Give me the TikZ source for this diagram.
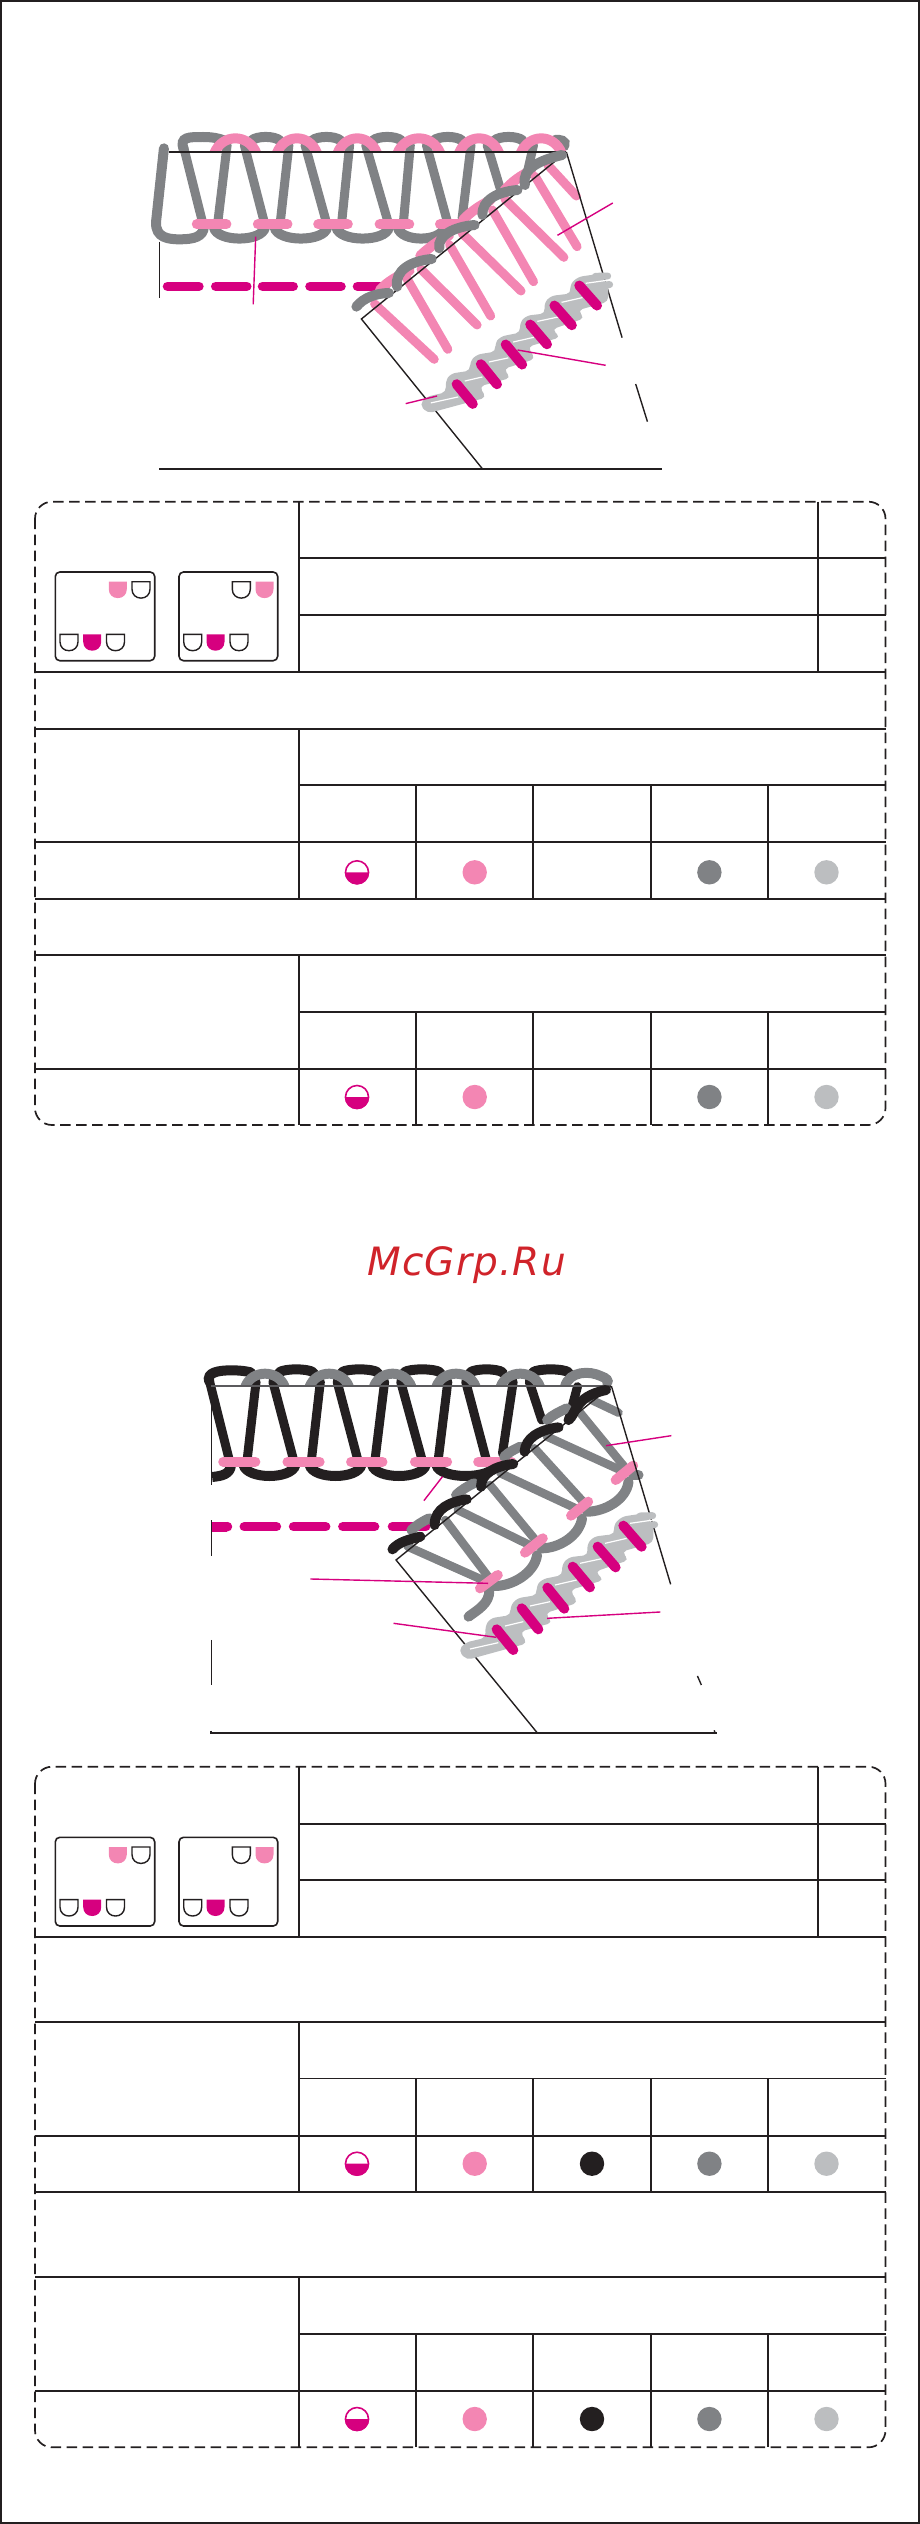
\documentclass[tikz,border=0pt]{standalone}
\usepackage{fontspec}
\newfontfamily\markfont[LetterSpace=3]{DejaVu Sans}
\definecolor{inkc}{HTML}{231F20}
\definecolor{pinkc}{HTML}{F386B3}
\definecolor{magc}{HTML}{D6007F}
\definecolor{grayc}{HTML}{808285}
\definecolor{lightc}{HTML}{BCBEC0}
\definecolor{markc}{HTML}{D0232A}
\tikzset{
  thinline/.style={draw=inkc,line width=1.4pt},
  gridline/.style={draw=inkc,line width=1.9pt},
  dashline/.style={draw=inkc,line width=1.7pt,dash pattern=on 10.5pt off 5.5pt,rounded corners=17pt},
  leader/.style={draw=magc,line width=1.4pt},
  strand/.style={line width=10pt,line cap=round},
  graystrand/.style={strand,draw=grayc},
  inkstrand/.style={strand,draw=inkc},
  pinkstrand/.style={strand,draw=pinkc},
  magstrand/.style={strand,draw=magc},
  cupline/.style={draw=inkc,line width=1.4pt,fill=white},
  boxline/.style={draw=inkc,line width=1.6pt,rounded corners=4.5pt},
}
\newcommand{\sewcup}[3]{\path[#3] (#1,#2) -- (#1+18,#2) -- (#1+18,#2+7.5) .. controls (#1+18,#2+13) and (#1+14,#2+16.4) .. (#1+9,#2+16.4) .. controls (#1+4,#2+16.4) and (#1,#2+13) .. (#1,#2+7.5) -- cycle;}
\newcommand{\sewboxes}{%
  \path[boxline] (55.3,572) rectangle (154.7,660.7);
  \path[boxline] (179,572) rectangle (277.7,660.7);
  \sewcup{108.8}{581.7}{fill=pinkc}
  \sewcup{132}{581.7}{cupline}
  \sewcup{60}{634.3}{cupline}
  \sewcup{83.2}{634.3}{fill=magc}
  \sewcup{106.5}{634.3}{cupline}
  \sewcup{232.3}{581.7}{cupline}
  \sewcup{255.5}{581.7}{fill=pinkc}
  \sewcup{183.7}{634.3}{cupline}
  \sewcup{206.5}{634.3}{fill=magc}
  \sewcup{230}{634.3}{cupline}
}
\newcommand{\halfdot}[1]{%
  \fill[magc] (357,#1) ++(-12.2,0) arc[start angle=180,end angle=0,radius=12.2] -- cycle;
  \draw[magc,line width=1.6pt] (357,#1) circle[radius=11.5];
}
\newcommand{\sixbars}{%
  \foreach \a/\b/\c/\d in {170/388/220/450,245/325/295/388,322/263/373/326,398/200/450/262,473/140/527/202,550/77/605/140}
    \draw[magstrand] (\a,\b) -- (\c,\d);
}
\newcommand{\chainband}{%
  \draw[lightc,line width=7pt,line cap=round] (600,48) -- (638,47);
  \draw[lightc,line width=7pt,line cap=round] (600,78) -- (644,74);
  \fill[lightc,rounded corners=5pt] (625,38) -- (545,50) -- (520,75) -- (525,102) -- (460,110) -- (440,135) -- (445,165) -- (385,172) -- (365,195) -- (368,225) -- (305,238) -- (288,260) -- (292,285) -- (230,295) -- (210,320) -- (213,345) -- (150,355) -- (135,380) -- (138,413) -- (75,428) -- (55,452) -- (80,480) -- (262,430) -- (240,395) -- (338,368) -- (315,340) -- (414,308) -- (390,270) -- (492,240) -- (465,215) -- (567,180) -- (545,155) -- (640,128) -- (640,75) -- (625,60) -- cycle;
  \foreach \a/\b/\c/\d in {90/447/175/428,195/378/250/365,270/318/330/305,345/255/410/240,420/190/490/175,495/130/560/115,570/70/640/60}
    \draw[white,line width=1.2pt] (\a,\b) -- (\c,\d);
  \sixbars
}
\begin{document}
\begin{tikzpicture}[x=1pt,y=-1pt]
\useasboundingbox (0,0) rectangle (920,2524);
\draw[draw=inkc,line width=2.4pt] (1.2,1.2) rectangle (918.8,2522.8);

% ===== first stitch drawing =====
\begin{scope}[shift={(130,110)},x=.3571pt,y=-.3333pt]
  % dashed seam
  \foreach \a/\b in {105/193,240/327,371/457,504/591,637/715}
    \draw[magstrand,line width=9.5pt] (\a,529) -- (\b,529);
  % looper arcs on top
  \draw[graystrand] (150,118) .. controls (138,80) and (165,81) .. (205,81) .. controls (230,81) and (250,85) .. (265,92);
  \foreach \a/\b in {340/420,510/590,680/760,850/930,1020/1100}
    \draw[graystrand] (\a,92) .. controls (\a+15,77) and (\b-15,77) .. (\b,92);
  \draw[graystrand] (1190,90) .. controls (1205,88) and (1222,92) .. (1216,108);
  % legs
  \foreach \a/\b/\c/\d in {150/110/205/345,272/105/245/345,320/105/378/345,445/105/420/345,490/105/552/345,615/105/592/345,660/105/725/345,785/105/765/345,830/105/890/340,955/105/930/325,1000/105/1038/240,1130/105/1110/200}
    \draw[graystrand,line width=9pt] (\a,\b) -- (\c,\d);
  % lower loops
  \draw[graystrand] (95,115) -- (73,335) .. controls (70,385) and (110,388) .. (140,388) .. controls (180,388) and (205,380) .. (207,350);
  \foreach \a/\b in {235/378,405/552,578/725,750/880}
    \draw[graystrand] (\a,352) .. controls (\a+8,397) and (\b-8,397) .. (\b,352);
  % needle bars
  \foreach \a/\b in {187/270,358/441,527/610,699/782,868/925}
    \draw[pinkstrand] (\a,343) -- (\b,343);
  % pink arches
  \begin{scope}
    \clip (0,0) rectangle (1300,126);
    \foreach \a/\b in {236/354,411/524,581/692,749/869,921/1034,1094/1209}
      \draw[pinkstrand,line cap=butt] (\a,130) .. controls (\a+22,70) and (\b-22,70) .. (\b,130);
  \end{scope}
  % folded part
  \foreach \a/\b/\c/\d in {685/582/852/748,775/505/890/718,815/478/972/645,895/405/1010/618,930/370/1095/543,1015/300/1130/515,1050/268/1215/442,1135/200/1252/410,1170/165/1250/258}
    \draw[pinkstrand,line width=9pt] (\a,\b) -- (\c,\d);
  \draw[pinkstrand] (700,540) .. controls (723,512) and (753,497) .. (783,482);
  \draw[pinkstrand] (813,437) .. controls (838,412) and (863,392) .. (893,377);
  \draw[pinkstrand] (933,329) .. controls (953,307) and (978,287) .. (1008,272);
  \draw[pinkstrand] (1048,242) .. controls (1068,217) and (1093,197) .. (1123,182);
  % thin outline
  \draw[thinline] (108,126) -- (1222,126);
  \draw[thinline] (82,395) -- (82,565);
  \draw[thinline] (1222,126) -- (1378,683);
  \draw[thinline] (1416,822) -- (1449,935);
  \draw[thinline] (1222,126) -- (648,627) -- (988,1078);
  \draw[thinline,line width=1.9pt] (82,1078) -- (1490,1078);
  % fold arcs
  \draw[graystrand] (634,590) .. controls (655,562) and (690,550) .. (725,549);
  \draw[graystrand] (748,530) .. controls (740,480) and (790,452) .. (845,447);
  \draw[graystrand] (866,415) .. controls (860,375) and (910,350) .. (965,345);
  \draw[graystrand] (987,315) .. controls (985,270) and (1030,245) .. (1085,240);
  \draw[graystrand] (1106,225) .. controls (1095,175) and (1150,150) .. (1210,135);
\end{scope}
% coverstitch chain, first drawing
\begin{scope}[shift={(401.8,261.1)},x=.32267pt,y=-.3173pt]
  \chainband
\end{scope}
\begin{scope}[shift={(130,110)},x=.3571pt,y=-.3333pt]
  \draw[leader] (352,380) -- (345,583);
  \draw[leader] (1352,279) -- (1197,376);
  \draw[leader] (1332,766) -- (1085,720);
  \draw[leader] (860,858) -- (772,881);
\end{scope}

% ===== first table =====
\path[dashline] (35,501.7) rectangle (885.5,1125);
\foreach \y in {558,615} \draw[gridline] (299,\y) -- (885.5,\y);
\foreach \y in {672,729,841.7,899,955,1069} \draw[gridline] (35,\y) -- (885.5,\y);
\foreach \y in {785,1012} \draw[gridline] (299,\y) -- (885.5,\y);
\draw[gridline] (299,501.7) -- (299,672);
\draw[gridline] (817.7,501.7) -- (817.7,672);
\draw[gridline] (299,729) -- (299,899);
\draw[gridline] (299,955) -- (299,1125);
\foreach \x in {416,533,650.6,767.8} {
  \draw[gridline] (\x,785) -- (\x,899);
  \draw[gridline] (\x,1012) -- (\x,1125);
}
\sewboxes
\foreach \y in {872.3,1097} {
  \halfdot{\y}
  \fill[pinkc] (474.7,\y) circle[radius=12.2];
  \fill[grayc] (709.4,\y) circle[radius=12.2];
  \fill[lightc] (826.5,\y) circle[radius=12.2];
}

% ===== watermark =====
\node[text=markc,font={\markfont\itshape\fontsize{39}{39}\selectfont},inner sep=0pt] (mark) at (466.5,1265) {McGrp.Ru};

% ===== second stitch drawing =====
\begin{scope}[shift={(190,1340)},x=.3571pt,y=-.3333pt]
  \fill[magc] (62,545) rectangle (105,575);
  \foreach \a/\b in {105/105,152/242,290/380,428/517,567/660}
    \draw[magstrand,line width=9.5pt] (\a,560) -- (\b,560);
  % top arcs, black
  \draw[inkstrand] (54,125) .. controls (45,97) and (80,91) .. (115,91) .. controls (140,91) and (155,93) .. (170,97);
  \foreach \a/\b in {250/345,425/525,600/700,785/875,960/1060}
    \draw[inkstrand] (\a,97) .. controls (\a+15,85) and (\b-15,85) .. (\b,97);
  % legs
  \foreach \a/\b/\c/\d in {55/125/110/360,185/125/160/360,232/125/290/360,365/125/340/360,412/125/470/360,545/125/518/360,590/125/650/360,722/125/695/360,772/125/830/360,905/125/875/340,950/125/985/240,1085/140/1060/240}
    \draw[inkstrand,line width=9pt] (\a,\b) -- (\c,\d);
  % lower loops
  \draw[inkstrand,line cap=butt] (62,411) .. controls (90,408) and (112,403) .. (115,375);
  \foreach \a/\b in {150/295,335/480,510/660,690/855}
    \draw[inkstrand] (\a,375) .. controls (\a+10,419) and (\b-10,419) .. (\b,375);
  % needle bars
  \foreach \a/\b in {93/183,273/363,451/539,630/720,807/900}
    \draw[pinkstrand] (\a,365) -- (\b,365);
  % gray arches
  \begin{scope}
    \clip (0,0) rectangle (1300,137);
    \foreach \a/\b in {155/265,335/445,515/620,690/800,870/980}
      \draw[graystrand] (\a,140) .. controls (\a+18,88) and (\b-18,88) .. (\b,140);
    \draw[graystrand] (1050,140) .. controls (1062,92) and (1120,92) .. (1150,108) .. controls (1168,115) and (1172,122) .. (1168,128);
  \end{scope}
  % folded part
  \foreach \a/\b/\c/\d in {610/620/830/725,715/540/835/710,750/510/960/620,840/435/975/610,870/400/1090/510,965/325/1105/490,1000/290/1215/395,1090/215/1220/385,1125/180/1200/218}
    \draw[graystrand,line width=8.5pt] (\a,\b) -- (\c,\d);
  \draw[graystrand] (620,570) .. controls (635,555) and (650,545) .. (670,535);
  \draw[graystrand] (745,465) .. controls (760,450) and (775,440) .. (795,430);
  \draw[graystrand] (880,350) .. controls (895,335) and (905,330) .. (925,320);
  \draw[graystrand] (1000,240) .. controls (1015,225) and (1035,215) .. (1055,205);
  \draw[graystrand] (780,830) .. controls (805,810) and (840,790) .. (838,750);
  \draw[graystrand] (850,738) .. controls (900,740) and (965,700) .. (972,645);
  \draw[graystrand] (985,625) .. controls (1030,625) and (1090,590) .. (1098,535);
  \draw[graystrand] (1112,515) .. controls (1160,515) and (1222,480) .. (1228,425);
  \draw[graystrand] (1240,405) -- (1256,405);
  \foreach \a/\b/\c/\d in {862/705/812/745,988/595/938/638,1115/485/1067/527,1241/377/1192/420}
    \draw[pinkstrand] (\a,\b) -- (\c,\d);
  % thin outline
  \draw[draw=grayc!60!inkc,line width=1.6pt] (60,138) -- (1180,138);
  \draw[thinline] (60,150) -- (60,435);
  \draw[thinline] (60,540) -- (60,648);
  \draw[thinline] (60,900) -- (60,1035);
  \draw[thinline] (1180,138) -- (1346,733);
  \draw[thinline] (1421,1008) -- (1432,1035);
  \draw[thinline] (1180,138) -- (577,660) -- (972,1178);
  \draw[thinline,line width=1.9pt] (60,1172) -- (60,1178) -- (1475,1178);
  \draw[thinline] (1468,1171) -- (1470,1178);
  % black fold arcs
  \draw[inkstrand] (567,628) .. controls (585,605) and (615,598) .. (645,590);
  \draw[inkstrand] (685,555) .. controls (685,505) and (730,485) .. (775,478);
  \draw[inkstrand] (815,440) .. controls (815,400) and (855,378) .. (905,372);
  \draw[inkstrand] (937,335) .. controls (940,295) and (975,270) .. (1032,262);
  \draw[inkstrand] (1060,240) .. controls (1082,222) and (1075,170) .. (1165,150);
\end{scope}
\begin{scope}[shift={(440,1500)},x=.3333pt,y=-.3333pt]
  \chainband
\end{scope}
\begin{scope}[shift={(190,1340)},x=.3571pt,y=-.3333pt]
  \draw[leader] (707,410) -- (655,482);
  \draw[leader] (1348,287) -- (1165,317);
  \draw[leader] (337,717) -- (835,730);
  \draw[leader] (1317,816) -- (1000,835);
  \draw[leader] (570,850) -- (858,892);
\end{scope}

% ===== second table =====
\path[dashline] (35,1766.7) rectangle (885.5,2447.3);
\foreach \y in {1823.7,1880} \draw[gridline] (299,\y) -- (885.5,\y);
\foreach \y in {1937,2021.7,2135.7,2192,2277,2390.7} \draw[gridline] (35,\y) -- (885.5,\y);
\foreach \y in {2078.5,2334} \draw[gridline] (299,\y) -- (885.5,\y);
\draw[gridline] (299,1766.7) -- (299,1937);
\draw[gridline] (817.7,1766.7) -- (817.7,1937);
\draw[gridline] (299,2021.7) -- (299,2192);
\draw[gridline] (299,2277) -- (299,2447.3);
\foreach \x in {416,533,650.6,767.8} {
  \draw[gridline] (\x,2078.5) -- (\x,2192);
  \draw[gridline] (\x,2334) -- (\x,2447.3);
}
\begin{scope}[shift={(0,1265.3)}]
  \sewboxes
\end{scope}
\foreach \y in {2163.7,2419} {
  \halfdot{\y}
  \fill[pinkc] (474.7,\y) circle[radius=12.2];
  \fill[inkc] (592,\y) circle[radius=12.2];
  \fill[grayc] (709.4,\y) circle[radius=12.2];
  \fill[lightc] (826.5,\y) circle[radius=12.2];
}
\end{tikzpicture}
\end{document}
